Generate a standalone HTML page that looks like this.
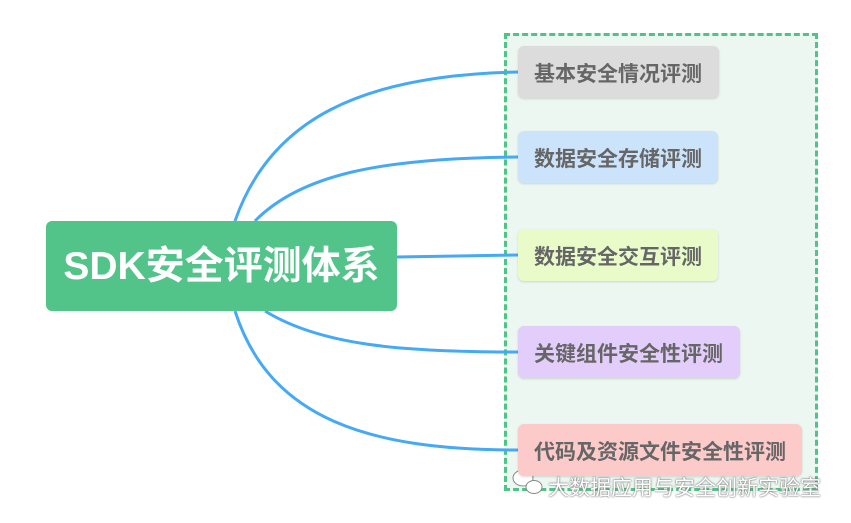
<!DOCTYPE html>
<html><head><meta charset="utf-8"><style>
body{margin:0;width:851px;height:523px;background:#fff;position:relative;overflow:hidden;font-family:"Liberation Sans","Noto Sans CJK SC",sans-serif}
.box{position:absolute;left:504px;top:33px;width:308px;height:452px;border:3px dashed #4fc487;background:#edf7f1}
.n{position:absolute;left:518px;height:52px;border-radius:6px;color:#666;font-weight:bold;font-size:21px;line-height:58px;padding-left:16px;box-sizing:border-box;box-shadow:0 1px 2px rgba(0,0,0,.15);white-space:nowrap}
.c{position:absolute;left:46px;top:221px;width:351px;height:90px;background:#52c48a;border-radius:6px;color:#fff;font-weight:bold;font-size:39px;line-height:92px;text-align:center;white-space:nowrap}
.wm{position:absolute;left:548px;top:472px;font-size:21px;color:#fff;text-shadow:0 0 2px #777,0 0 1px #555;white-space:nowrap}
</style></head><body>
<div class="box"></div>
<svg width="851" height="523" style="position:absolute;left:0;top:0">
<g fill="none" stroke="#45a9f5" stroke-width="3">
<path d="M235 221 C270 120 360 75 518 72"/>
<path d="M255 221 C300 175 380 158 518 157"/>
<path d="M397 257 C440 256 480 256 518 255"/>
<path d="M265 311 C320 345 400 352 518 352"/>
<path d="M235 311 C270 420 370 450 518 450"/>
</g>
<g fill="#fff" stroke="#888" stroke-width="1">
<ellipse cx="523" cy="478" rx="10" ry="8"/>
<ellipse cx="534" cy="487" rx="8" ry="6.5"/>
</g></svg>
<div class="c">SDK安全评测体系</div>
<div class="n" style="top:46px;width:201px;background:#dcdcdc">基本安全情况评测</div>
<div class="n" style="top:131px;width:200px;background:#cce4fb">数据安全存储评测</div>
<div class="n" style="top:229px;width:200px;background:#e8fbc9">数据安全交互评测</div>
<div class="n" style="top:326px;width:222px;background:#e3cdfb">关键组件安全性评测</div>
<div class="n" style="top:424px;width:284px;background:#fdcaca">代码及资源文件安全性评测</div>
<div class="wm">大数据应用与安全创新实验室</div>
</body></html>
